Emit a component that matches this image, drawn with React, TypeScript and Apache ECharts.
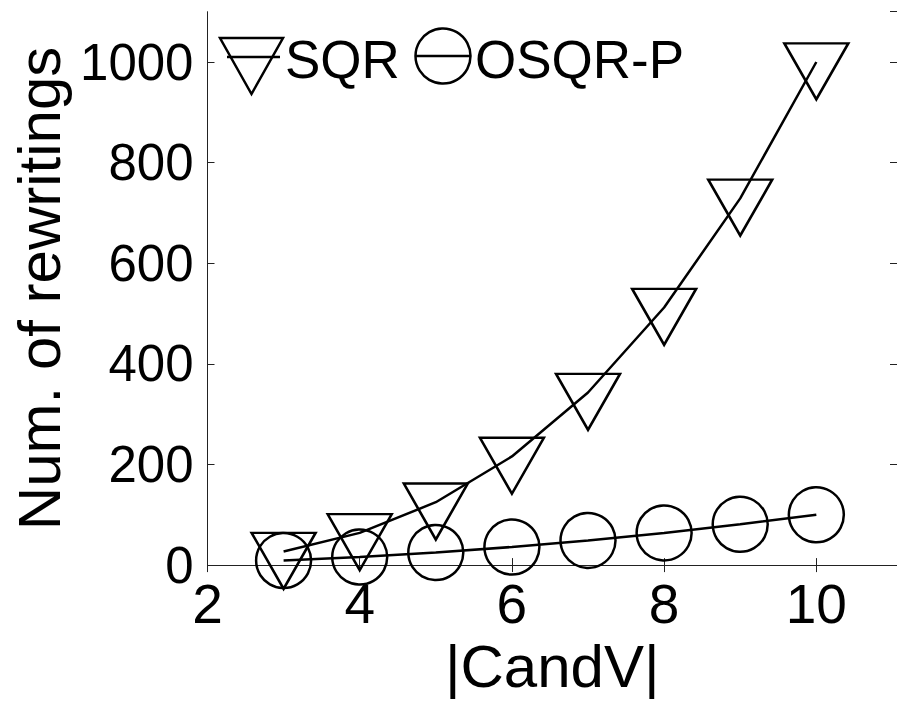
import React, { useEffect, useRef } from "react";
import * as echarts from "echarts";

const candV = [3, 4, 5, 6, 7, 8, 9, 10];
const sqrValues = [27, 64, 125, 216, 343, 512, 729, 1000];
const osqrValues = [9, 16, 25, 36, 49, 64, 81, 100];
const seriesNames = ["SQR", "OSQR-P"];
const xTicks = [2, 4, 6, 8, 10];
const yTicks = [0, 200, 400, 600, 800, 1000];

const FONT = "'Liberation Sans', Arial, Helvetica, sans-serif";
const TRI = "path://M0,0 L64,0 L32,56 Z";

export default function App() {
  const ref = useRef<HTMLDivElement>(null);
  useEffect(() => {
    if (!ref.current) return;
    const chart = echarts.init(ref.current, undefined, { renderer: "svg" });
    const xMin = xTicks[0];
    const xMax = 11.06;
    const yMin = yTicks[0];
    const yMax = 1100;
    const axisLine = { show: true, lineStyle: { color: "#222", width: 1 } };
    const tick = { show: true, inside: true, length: 7, lineStyle: { color: "#222", width: 1 } };
    const common = { splitLine: { show: false } };
    const plain = (v: number) => String(v);
    chart.setOption({
      animation: false,
      backgroundColor: "#fff",
      grid: { left: 207.5, top: 11.7, right: -4.6, bottom: 121.5, containLabel: false },
      xAxis: [
        {
          type: "value",
          min: xMin,
          max: xMax,
          interval: 2,
          position: "bottom",
          axisLine,
          axisTick: tick,
          ...common,
          axisLabel: {
            margin: 11,
            fontSize: 55,
            color: "#000",
            fontFamily: FONT,
            showMaxLabel: false,
            formatter: plain,
          },
          name: "|CandV|",
          nameLocation: "middle",
          nameGap: 53,
          nameTextStyle: { fontSize: 60, color: "#000", fontFamily: FONT },
        },
        {
          type: "value",
          min: xMin,
          max: xMax,
          interval: 2,
          position: "top",
          axisLine,
          axisTick: tick,
          axisLabel: { show: false },
          ...common,
        },
      ],
      yAxis: [
        {
          type: "value",
          min: yMin,
          max: yMax,
          interval: 200,
          position: "left",
          axisLine,
          axisTick: tick,
          ...common,
          axisLabel: {
            margin: 14,
            fontSize: 51,
            color: "#000",
            fontFamily: FONT,
            showMaxLabel: false,
            formatter: plain,
          },
          name: "Num. of rewritings",
          nameLocation: "middle",
          nameGap: 134,
          nameTextStyle: { fontSize: 60, color: "#000", fontFamily: FONT },
        },
        {
          type: "value",
          min: yMin,
          max: yMax,
          interval: 200,
          position: "right",
          axisLine,
          axisTick: tick,
          axisLabel: { show: false },
          ...common,
        },
      ],
      series: [
        {
          name: seriesNames[0],
          type: "line",
          xAxisIndex: 0,
          yAxisIndex: 0,
          data: candV.map((x, i) => [x, sqrValues[i]]),
          symbol: TRI,
          symbolSize: [64, 56],
          symbolOffset: [0, 9.3],
          showAllSymbol: true,
          lineStyle: { color: "#000", width: 2.5 },
          itemStyle: { color: "transparent", borderColor: "#000", borderWidth: 2.5 },
          clip: false,
          z: 3,
        },
        {
          name: seriesNames[1],
          type: "line",
          xAxisIndex: 0,
          yAxisIndex: 0,
          data: candV.map((x, i) => [x, osqrValues[i]]),
          symbol: "circle",
          symbolSize: 55,
          showAllSymbol: true,
          lineStyle: { color: "#000", width: 2.5 },
          itemStyle: { color: "transparent", borderColor: "#000", borderWidth: 2.5 },
          clip: false,
          z: 3,
        },
      ],
      graphic: [
        {
          type: "polygon",
          shape: { points: [[220, 38], [283, 38], [251.5, 94]] },
          style: { fill: "transparent", stroke: "#000", lineWidth: 2.5 },
          z: 10,
        },
        {
          type: "line",
          shape: { x1: 227, y1: 57, x2: 280, y2: 57 },
          style: { stroke: "#000", lineWidth: 2.5 },
          z: 10,
        },
        {
          type: "text",
          x: 285,
          y: 59,
          style: {
            text: seriesNames[0],
            font: `53px ${FONT}`,
            fill: "#000",
            verticalAlign: "middle",
          },
          z: 10,
        },
        {
          type: "circle",
          shape: { cx: 443, cy: 56, r: 27.5 },
          style: { fill: "transparent", stroke: "#000", lineWidth: 2.5 },
          z: 10,
        },
        {
          type: "line",
          shape: { x1: 416, y1: 56, x2: 470, y2: 56 },
          style: { stroke: "#000", lineWidth: 2.5 },
          z: 10,
        },
        {
          type: "text",
          x: 475,
          y: 59,
          style: {
            text: seriesNames[1],
            font: `53px ${FONT}`,
            fill: "#000",
            verticalAlign: "middle",
          },
          z: 10,
        },
      ],
    });
    return () => chart.dispose();
  }, []);
  return (
    <div
      ref={ref}
      style={{ position: "fixed", left: 0, top: 0, width: 897, height: 701, background: "#fff" }}
    />
  );
}
